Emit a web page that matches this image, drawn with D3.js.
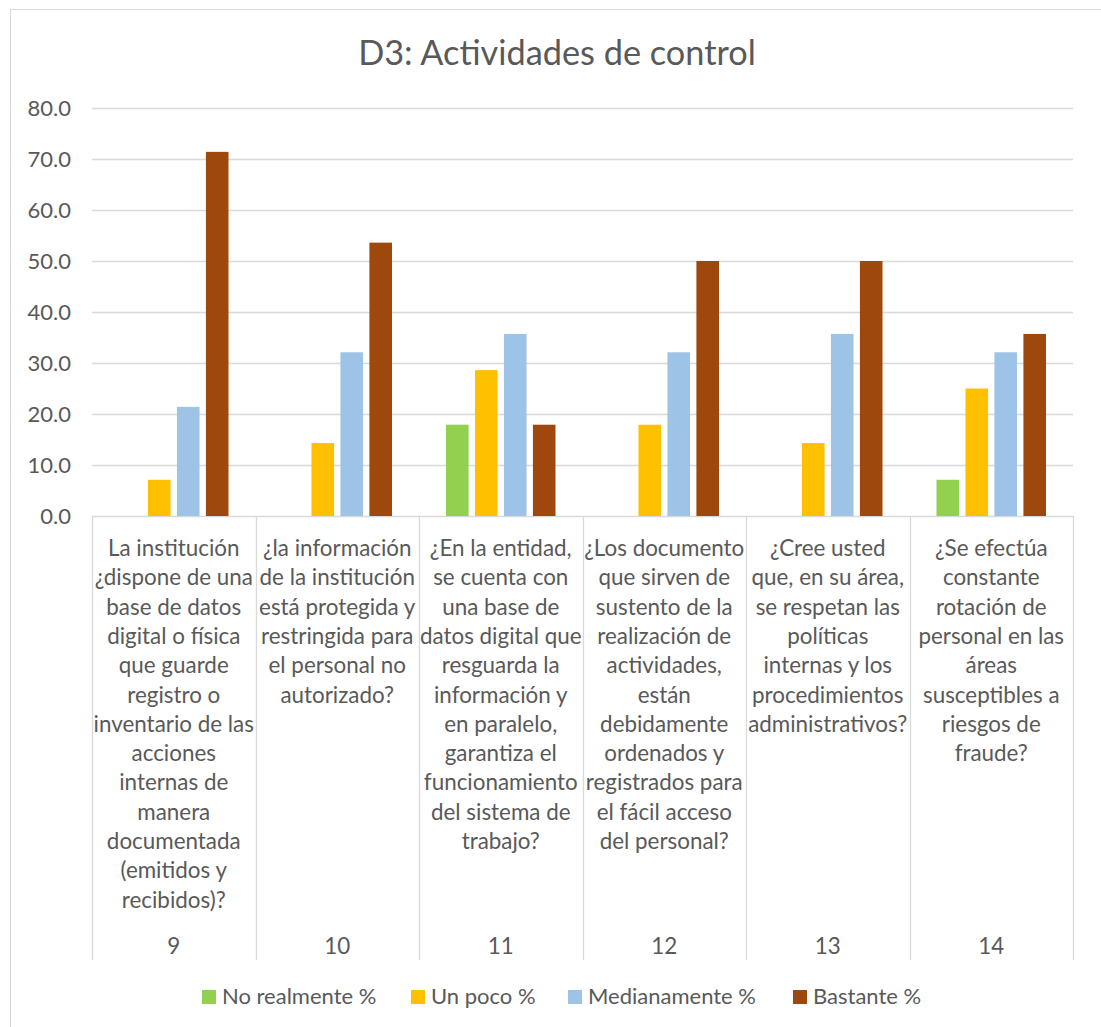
<!DOCTYPE html>
<html>
<head>
<meta charset="utf-8">
<script src="https://cdn.jsdelivr.net/npm/d3@7"></script>
<style>
  body { margin: 0; background: #fff; }
  text { font-family: Lato, "Open Sans", sans-serif; fill: #595959; }
</style>
</head>
<body>
<svg id="chart"></svg>
<script>
var codes = ["9", "10", "11", "12", "13", "14"];
var questions = [
    ["La institución", "¿dispone de una", "base de datos", "digital o física", "que guarde", "registro o", "inventario de las", "acciones", "internas de", "manera", "documentada", "(emitidos y", "recibidos)?"],
    ["¿la información", "de la institución", "está protegida y", "restringida para", "el personal no", "autorizado?"],
    ["¿En la entidad,", "se cuenta con", "una base de", "datos digital que", "resguarda la", "información y", "en paralelo,", "garantiza el", "funcionamiento", "del sistema de", "trabajo?"],
    ["¿Los documento", "que sirven de", "sustento de la", "realización de", "actividades,", "están", "debidamente", "ordenados y", "registrados para", "el fácil acceso", "del personal?"],
    ["¿Cree usted", "que, en su área,", "se respetan las", "políticas", "internas y los", "procedimientos", "administrativos?"],
    ["¿Se efectúa", "constante", "rotación de", "personal en las", "áreas", "susceptibles a", "riesgos de", "fraude?"]
];
var seriesNames = ["No realmente %", "Un poco %", "Medianamente %", "Bastante %"];
var noRealmente = [0, 0, 17.9, 0, 0, 7.1];
var unPoco = [7.1, 14.3, 28.6, 17.9, 14.3, 25.0];
var medianamente = [21.4, 32.1, 35.7, 32.1, 35.7, 32.1];
var bastante = [71.4, 53.6, 17.9, 50.0, 50.0, 35.7];
var yTicks = [0, 10, 20, 30, 40, 50, 60, 70, 80];
var colors = ["#92D050", "#FFC000", "#9DC3E6", "#9E480E"];

var seriesValues = [noRealmente, unPoco, medianamente, bastante];

var W = 1101, H = 1027;
var margin = { top: 108, right: 28, bottom: 511, left: 92 },
    width = W - margin.left - margin.right,
    height = H - margin.top - margin.bottom;

var root = d3.select("#chart")
    .attr("width", W)
    .attr("height", H);

// outer chart frame
root.append("rect")
    .attr("x", 10.5).attr("y", 9.5)
    .attr("width", 1100).attr("height", 1030)
    .attr("fill", "none")
    .attr("stroke", "#d9d9d9");

root.append("text")
    .attr("x", 557).attr("y", 65)
    .attr("text-anchor", "middle")
    .style("font-size", "34.3px")
    .text("D3: Actividades de control");

var svg = root.append("g")
    .attr("transform", "translate(" + margin.left + "," + margin.top + ")");

var x0 = d3.scaleBand()
    .domain(codes)
    .range([0, width]);

var x1 = d3.scaleBand()
    .domain(seriesNames)
    .range([27, x0.bandwidth() - 27])
    .paddingInner(0.22);

var y = d3.scaleLinear()
    .domain([0, 80])
    .range([height, 0]);

// gridlines
svg.append("g")
    .selectAll("line")
    .data(yTicks)
    .enter().append("line")
    .attr("x1", 0).attr("x2", width)
    .attr("y1", function(d) { return Math.round(y(d)) + 0.5; })
    .attr("y2", function(d) { return Math.round(y(d)) + 0.5; })
    .attr("stroke", "#d9d9d9")
    .attr("stroke-width", 1.3);

var yAxis = svg.append("g")
    .call(d3.axisLeft(y).tickValues(yTicks).tickFormat(d3.format(".1f")).tickSize(0).tickPadding(21));
yAxis.select(".domain").remove();
yAxis.selectAll("text").style("font-size", "22px").attr("fill", "#595959").style("font-family", "Lato, sans-serif");

// bars
var groups = svg.append("g")
    .selectAll("g")
    .data(codes)
    .enter().append("g")
    .attr("transform", function(d) { return "translate(" + x0(d) + ",0)"; });

groups.selectAll("rect")
    .data(function(d, i) {
        return seriesNames.map(function(s, j) { return { name: s, value: seriesValues[j][i], color: colors[j] }; });
    })
    .enter().append("rect")
    .attr("x", function(d) { return x1(d.name); })
    .attr("width", x1.bandwidth())
    .attr("y", function(d) { return y(d.value); })
    .attr("height", function(d) { return height - y(d.value); })
    .attr("fill", function(d) { return d.color; });

// category dividers
var edges = codes.map(function(c) { return x0(c); }).concat([width]);
svg.append("g")
    .selectAll("line")
    .data(edges)
    .enter().append("line")
    .attr("x1", function(d) { return Math.round(d) + 0.5; })
    .attr("x2", function(d) { return Math.round(d) + 0.5; })
    .attr("y1", height)
    .attr("y2", height + 444)
    .attr("stroke", "#d9d9d9")
    .attr("stroke-width", 1.3);

// question labels
var labels = svg.append("g")
    .selectAll("text")
    .data(codes)
    .enter().append("text")
    .attr("text-anchor", "middle")
    .attr("transform", function(d) { return "translate(" + (x0(d) + x0.bandwidth() / 2) + "," + (height + 40) + ")"; })
    .style("font-size", "22.4px");

labels.selectAll("tspan")
    .data(function(d, i) { return questions[i]; })
    .enter().append("tspan")
    .attr("x", 0)
    .attr("y", function(d, i) { return i * 29.3; })
    .text(function(d) { return d; });

svg.append("g")
    .selectAll("text")
    .data(codes)
    .enter().append("text")
    .attr("text-anchor", "middle")
    .attr("x", function(d) { return x0(d) + x0.bandwidth() / 2; })
    .attr("y", height + 438)
    .style("font-size", "22.4px")
    .text(function(d) { return d; });

// legend
var legendX = [202, 411, 568, 793];
var legend = root.append("g")
    .selectAll("g")
    .data(seriesNames)
    .enter().append("g")
    .attr("transform", function(d, i) { return "translate(" + legendX[i] + ",990)"; });

legend.append("rect")
    .attr("width", 14).attr("height", 14)
    .attr("fill", function(d, i) { return colors[i]; });

legend.append("text")
    .attr("x", 20).attr("y", 14)
    .style("font-size", "22px")
    .text(function(d) { return d; });
</script>
</body>
</html>
